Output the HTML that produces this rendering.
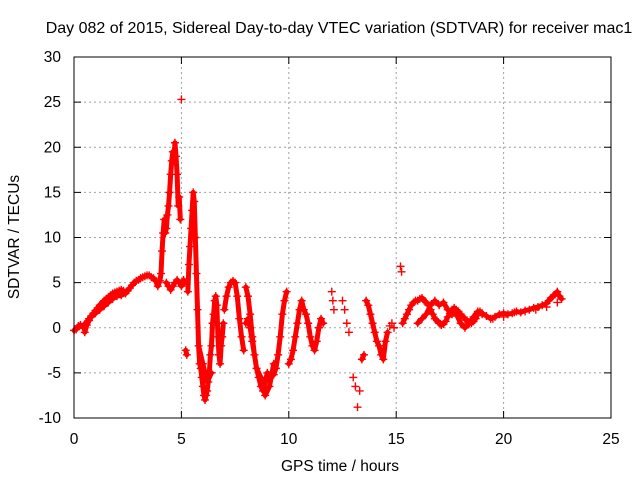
<!DOCTYPE html>
<html><head><meta charset="utf-8"><style>
body{margin:0;background:#fff}
svg text{font-family:"Liberation Sans",sans-serif;font-size:15.5px;fill:#000}
svg text.title{font-size:16px}
</style></head><body>
<svg id="chart" width="640" height="480" xmlns="http://www.w3.org/2000/svg">
<rect width="640" height="480" fill="#fff"/>
<g id="grid"></g>
<g id="ticks"></g>
<g id="points"></g>
<rect x="74" y="57" width="537" height="361" fill="none" stroke="#000" stroke-width="1"/>
<text class="title" x="339" y="33" text-anchor="middle">Day 082 of 2015, Sidereal Day-to-day VTEC variation (SDTVAR) for receiver mac1</text>
<text x="340" y="471" text-anchor="middle">GPS time / hours</text>
<text x="0" y="0" text-anchor="middle" transform="translate(19,237) rotate(-90)">SDTVAR / TECUs</text>
</svg>
<script>
const xTicks=[0,5,10,15,20,25];
const yTicks=[-10,-5,0,5,10,15,20,25,30];
// each segment: hours + values (SDTVAR, TECU); band=true means densely sampled trace
const segHours=[
 [0,0.1,0.2,0.3,0.4,0.5,0.6,0.7,0.8,0.9,1.0,1.1,1.2,1.3,1.4,1.5,1.6,1.7,1.8,1.9,2.0,2.1,2.2,2.3,2.4,2.5,2.6,2.7,2.8,2.9,3.0,3.1,3.2,3.3,3.4,3.5,3.6,3.7,3.8,3.9,4.0,4.05,4.1,4.15,4.2,4.25,4.3,4.35,4.4,4.45,4.5,4.55,4.6,4.65,4.7,4.75,4.8,4.85,4.9,4.95],
 [5.0],
 [4.3,4.4,4.5,4.6,4.7,4.8,4.9,5.0,5.1,5.15],
 [5.2,5.25,5.3,5.35,5.4,5.45,5.5,5.55,5.6,5.65,5.7,5.75,5.8,5.85,5.9,5.95,6.0,6.05,6.1,6.15,6.2,6.25,6.3,6.35,6.4,6.45,6.5,6.55,6.6,6.65,6.7,6.75,6.8,6.85,6.9,6.95],
 [7.0,7.1,7.2,7.3,7.4,7.5,7.6,7.7,7.8,7.9,8.0,8.1,8.2,8.3,8.4,8.5,8.6,8.7,8.8,8.9,9.0,9.1,9.2,9.3,9.4,9.5,9.6,9.7,9.8,9.9,10.0,10.1,10.2,10.3,10.4,10.5,10.6,10.7,10.8,10.9,11.0,11.1,11.2,11.3,11.4,11.5,11.6],
 [5.6,5.8,6.0,6.2,6.4,8.0,8.1,8.2,8.3,8.5,8.7,8.9,9.1,9.3],
 [12.0,12.05,12.1],
 [12.5,12.6,12.7,12.8],
 [13.0,13.1,13.2,13.3],
 [13.4,13.5,13.6,13.7,13.8,13.9,14.0,14.1,14.2,14.3,14.4,14.5,14.6],
 [14.7,14.8,14.9],
 [15.2,15.25],
 [15.3,15.4,15.5,15.6,15.7,15.8,15.9,16.0,16.1,16.2,16.3,16.4,16.5,16.6,16.7,16.8,16.9,17.0,17.1,17.2,17.3,17.4,17.5,17.6,17.7,17.8,17.9,18.0,18.1,18.2,18.3,18.4,18.5,18.6,18.7,18.8,18.9,19.0,19.2,19.4,19.6,19.8,20.0,20.2,20.4,20.6,20.8,21.0,21.2,21.4,21.6,21.8,22.0,22.1,22.2,22.3,22.4,22.5,22.6,22.7],
 [16.0,16.2,16.4,16.6,16.8,17.0,17.2,17.4,17.6,17.8,18.0,18.2,18.4,18.6,18.8,19.0,19.5,20.0,20.5,21.0,21.5,22.0,22.5],
 [0.5,0.6,0.7,0.8,1.0,1.2,1.4,1.6,1.8,2.0,2.2,2.4]
];
const segValues=[
 [-0.3,-0.2,0.2,0.3,0.1,0.4,0.6,1.0,1.3,1.6,1.9,2.2,2.5,2.7,3.0,3.2,3.4,3.6,3.8,3.9,4.0,4.1,4.2,4.1,3.9,4.1,4.4,4.7,5.0,5.2,5.3,5.5,5.6,5.7,5.8,5.8,5.6,5.5,5.2,4.6,5.2,6.0,8.5,10.5,12.0,10.5,11.0,12.5,13.5,15.0,17.0,18.5,19.5,18.5,20.5,19.0,17.0,13.5,14.5,12.0],
 [25.3],
 [5.0,4.6,4.2,4.6,5.0,5.3,5.0,4.6,5.3,5.0],
 [-2.5,-3.0,4.0,7.0,9.0,11.0,13.0,15.0,14.0,10.0,6.0,2.0,-2.0,-4.0,-4.5,-5.5,-6.5,-7.5,-8.0,-7.5,-7.0,-6.0,-5.0,-3.0,-2.0,0.5,1.5,3.0,3.5,2.5,-1.0,-3.0,-4.0,-2.0,-1.0,0.5],
 [2.0,3.5,4.5,5.0,5.2,5.0,3.5,1.0,-1.0,-2.5,4.5,3.5,1.5,-1.0,-3.0,-4.5,-5.5,-6.5,-7.0,-6.0,-5.0,-5.5,-5.0,-5.2,-4.5,-3.0,-1.0,1.5,3.0,4.0,-4.0,-3.5,-2.5,-1.0,0.5,2.0,3.0,2.0,1.5,0.5,-1.0,-2.0,-2.5,-1.5,0.0,1.0,0.5],
 [14.0,-2.0,-4.0,-6.0,-5.0,0.5,1.0,0.0,-1.5,-4.5,-5.5,-7.5,-6.5,-4.0],
 [4.0,3.0,2.0],
 [3.0,2.0,0.5,-0.5],
 [-5.5,-6.5,-8.8,-7.0],
 [-3.5,-3.0,3.0,2.5,1.5,0.5,-0.5,-1.5,-2.0,-3.0,-3.5,-1.5,-0.5],
 [0.2,0.5,0.0],
 [6.8,6.2],
 [0.5,1.0,1.5,2.0,2.5,2.8,3.0,3.0,3.2,3.3,3.0,2.8,2.5,2.0,1.5,1.0,0.8,0.5,0.3,0.4,0.7,1.2,1.6,2.0,2.2,2.0,1.8,1.5,1.2,1.0,0.8,0.6,0.5,0.7,1.0,1.5,1.8,1.6,1.3,1.0,1.2,1.5,1.6,1.5,1.6,1.8,1.7,1.9,2.0,2.2,2.3,2.5,2.7,3.0,3.3,3.5,3.7,4.0,3.5,3.2],
 [0.5,1.0,1.5,2.5,3.0,2.5,2.8,2.0,1.5,1.5,0.5,0.0,0.5,1.2,1.8,1.5,1.0,1.2,1.7,1.8,2.0,2.3,2.8],
 [-0.5,0.3,0.8,1.2,1.6,2.0,2.4,2.8,3.2,3.5,3.6,3.8]
];
const X0=74,X1=611,Y0=418,Y1=57;
const sx=h=>X0+(h-0)/(25-0)*(X1-X0);
const sy=v=>Y0-(v+10)/(30+10)*(Y0-Y1);
const NS="http://www.w3.org/2000/svg";
const grid=document.getElementById('grid'),ticks=document.getElementById('ticks'),pts=document.getElementById('points');
function mk(tag,attrs,parent){const e=document.createElementNS(NS,tag);for(const k in attrs)e.setAttribute(k,attrs[k]);parent.appendChild(e);return e;}
xTicks.forEach(t=>{const x=sx(t);
 if(t>0&&t<25){const l=mk('line',{x1:x,x2:x,y1:Y1,y2:Y0,stroke:'#a0a0a0','stroke-dasharray':'2,3'},grid);
 
 }
 const a=mk('line',{x1:x,x2:x,y1:Y0,y2:Y0-7,stroke:'#000'},ticks);
 
 
 const b=mk('line',{x1:x,x2:x,y1:Y1,y2:Y1+7,stroke:'#000'},ticks);
 
 
 const tx=mk('text',{x:x,y:444,'text-anchor':'middle'},ticks);tx.textContent=t;
 
 
});
yTicks.forEach(t=>{const y=sy(t);
 if(t>-10&&t<30){const l=mk('line',{x1:X0,x2:X1,y1:y,y2:y,stroke:'#a0a0a0','stroke-dasharray':'2,3'},grid);
 
 }
 const a=mk('line',{x1:X0,x2:X0+7,y1:y,y2:y,stroke:'#000'},ticks);
 
 
 const b=mk('line',{x1:X1,x2:X1-7,y1:y,y2:y,stroke:'#000'},ticks);
 
 
 const tx=mk('text',{x:61,y:y+5,'text-anchor':'end'},ticks);tx.textContent=t;
 
 
});
let band='',d='';
segHours.forEach((hs,s)=>{
 const vs=segValues[s];
 const n=Math.min(hs.length,vs.length);
 for(let i=0;i<n;i++){
  const x=sx(hs[i]),y=sy(vs[i]);
  d+=`M${x-4},${y}h8M${x},${y-4}v8`;
  if(i>0&&hs.length>5){
   const dt=hs[i]-hs[i-1],dv=Math.abs(vs[i]-vs[i-1]);
   if(dt>0&&dt<=0.21&&dv<=5.5)band+=`M${sx(hs[i-1])},${sy(vs[i-1])}L${x},${y}`;
  }
 }
});
const bp=mk('path',{d:band,stroke:'#ff0000','stroke-width':'5','stroke-linecap':'round','stroke-linejoin':'round',fill:'none'},pts);


const p=mk('path',{d:d,stroke:'#ff0000','stroke-width':'1.4',fill:'none'},pts);


</script>
</body></html>
